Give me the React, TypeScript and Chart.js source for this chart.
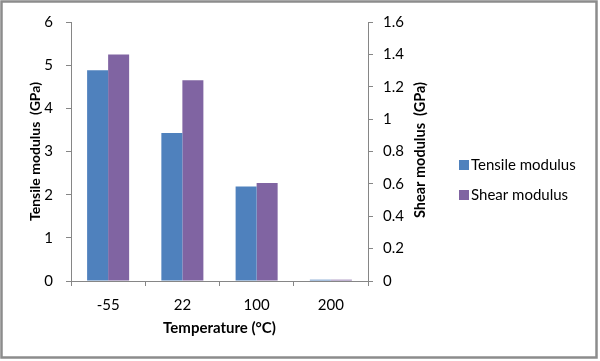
import React, { useEffect, useRef } from "react";
import { Chart, registerables } from "chart.js";

Chart.register(...registerables);

const categories = ["-55", "22", "100", "200"];
const tensileModulus = [4.88, 3.43, 2.19, 0.03];
const shearModulus = [1.4, 1.24, 0.605, 0.008];
const leftTicks = [0, 1, 2, 3, 4, 5, 6];
const rightTicks = [0, 0.2, 0.4, 0.6, 0.8, 1, 1.2, 1.4, 1.6];

const FONT = "Lato, 'Open Sans', sans-serif";
const AXIS = "#868686";

const decorPlugin = {
  id: "decor",
  afterDraw(chart: any) {
    const ctx = chart.ctx;
    ctx.save();
    // outer border
    ctx.strokeStyle = "#8c8c8c";
    ctx.lineWidth = 2.5;
    ctx.strokeRect(1.5, 1.5, 595, 356);
    // right axis title (reads bottom to top)
    ctx.translate(420, 150);
    ctx.rotate(-Math.PI / 2);
    ctx.font = `bold 14.5px ${FONT}`;
    ctx.fillStyle = "#000";
    ctx.textAlign = "center";
    ctx.textBaseline = "middle";
    ctx.fillText("Shear modulus  (GPa)", 0, 0);
    ctx.restore();
    // legend
    ctx.save();
    ctx.font = `15px ${FONT}`;
    ctx.textBaseline = "middle";
    ctx.textAlign = "left";
    chart.data.datasets.forEach((ds: any, i: number) => {
      const cy = 165 + i * 30;
      ctx.fillStyle = ds.backgroundColor;
      ctx.fillRect(459, cy - 5, 10, 10);
      ctx.fillStyle = "#000";
      ctx.fillText(ds.label, 471, cy);
    });
    ctx.restore();
  },
};

export default function App() {
  const ref = useRef<HTMLCanvasElement>(null);
  useEffect(() => {
    if (!ref.current) return;
    const chart = new Chart(ref.current, {
      type: "bar",
      data: {
        labels: categories,
        datasets: [
          {
            label: "Tensile modulus",
            data: tensileModulus,
            backgroundColor: "#4F81BD",
            yAxisID: "y",
            categoryPercentage: 0.566,
            barPercentage: 1,
          },
          {
            label: "Shear modulus",
            data: shearModulus,
            backgroundColor: "#8064A2",
            yAxisID: "y1",
            categoryPercentage: 0.566,
            barPercentage: 1,
          },
        ],
      },
      options: {
        responsive: false,
        animation: false,
        layout: { padding: { left: 27, right: 192, top: 19, bottom: 24 } },
        plugins: { legend: { display: false }, tooltip: { enabled: false } },
        scales: {
          x: {
            offset: true,
            grid: { display: true, offset: true, drawOnChartArea: false, tickLength: 5, color: AXIS },
            border: { color: AXIS, width: 1 },
            ticks: { padding: 10, color: "#000", font: { family: FONT, size: 15 } },
            title: {
              display: true,
              text: "Temperature (°C)",
              color: "#000",
              padding: 0,
              font: { family: FONT, size: 15, weight: "bold" },
            },
            afterFit: (s: any) => {
              s.height = 56;
            },
          },
          y: {
            position: "left",
            min: 0,
            max: 6,
            afterBuildTicks: (s: any) => {
              s.ticks = leftTicks.map((v) => ({ value: v }));
            },
            grid: { display: true, drawOnChartArea: false, tickLength: 5, color: AXIS },
            border: { color: AXIS, width: 1 },
            ticks: { padding: 13, color: "#000", font: { family: FONT, size: 15 } },
            title: {
              display: true,
              text: "Tensile modulus  (GPa)",
              color: "#000",
              padding: 0,
              font: { family: FONT, size: 14, weight: "bold" },
            },
            afterFit: (s: any) => {
              s.width = 44;
            },
          },
          y1: {
            position: "right",
            min: 0,
            max: 1.6,
            afterBuildTicks: (s: any) => {
              s.ticks = rightTicks.map((v) => ({ value: v }));
            },
            grid: { display: true, drawOnChartArea: false, tickLength: 5, color: AXIS },
            border: { color: AXIS, width: 1 },
            ticks: {
              padding: 10,
              color: "#000",
              font: { family: FONT, size: 15 },
              callback: (v: any) => String(Math.round(Number(v) * 10) / 10),
            },
            afterFit: (s: any) => {
              s.width = 40;
            },
          },
        },
      },
      plugins: [decorPlugin],
    } as any);
    return () => chart.destroy();
  }, []);
  return (
    <div style={{ position: "fixed", left: 0, top: 0, width: 600, height: 361, background: "#fff" }}>
      <canvas ref={ref} width={600} height={361} />
    </div>
  );
}
